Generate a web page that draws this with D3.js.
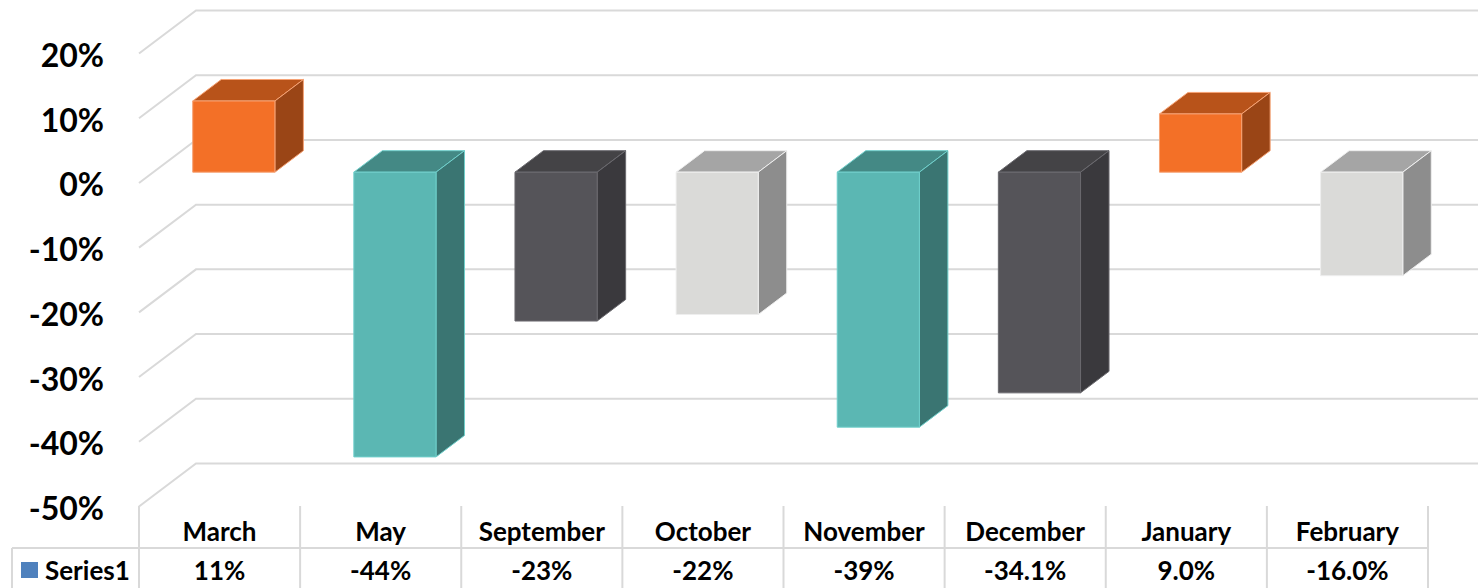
<!DOCTYPE html>
<html><head><meta charset="utf-8">
<script src="https://cdn.jsdelivr.net/npm/d3@7"></script>
<style>html,body{margin:0;padding:0;background:#fff;overflow:hidden}</style>
</head><body><svg id="c" width="1478" height="588"></svg>
<script>
const categories = ["March","May","September","October","November","December","January","February"];
const values = [0.11,-0.44,-0.23,-0.22,-0.394,-0.341,0.09,-0.16];
const valueLabels = ["11%","-44%","-23%","-22%","-39%","-34.1%","9.0%","-16.0%"];
const tickValues = [0.2,0.1,0,-0.1,-0.2,-0.3,-0.4,-0.5];
const tickLabels = ["20%","10%","0%","-10%","-20%","-30%","-40%","-50%"];
const colorIndex = [0,1,2,3,1,2,0,3];
const seriesName = "Series1";
const palette = [
  {front:"#F37027", top:"#B8531A", side:"#9A4516", edge:"#F6A274"},
  {front:"#5BB7B3", top:"#448985", side:"#3A7572", edge:"#6FCFCB"},
  {front:"#555459", top:"#444346", side:"#3A393D", edge:"#6A696E"},
  {front:"#DADAD8", top:"#A5A5A5", side:"#8D8D8D", edge:"#EFEFEF"}
];

const svg = d3.select("#c");
const FONT = "Lato, 'Open Sans', sans-serif";
const DX = 57, DY = 43;
const x = d3.scaleBand().domain(categories).range([139, 1428]).padding(0);
const y = d3.scaleLinear().domain([-0.5, 0.2]).range([506.5, 53.5]);
const p = (xv, v, z) => [xv + z * DX, y(v) - z * DY];
const grid = "#D9D9D9";

// gridlines (side wall + back wall)
const g = svg.append("g");
tickValues.forEach(t => {
  const a = p(139, t, 0), b = p(139, t, 1);
  g.append("path")
    .attr("d", `M${a[0]},${a[1]}L${b[0]},${b[1]}L1500,${b[1]}`)
    .attr("fill", "none").attr("stroke", grid).attr("stroke-width", 2);
});

// axis labels
svg.append("g").selectAll("text").data(tickValues).join("text")
  .attr("x", 104).attr("y", d => y(d) + 1)
  .attr("text-anchor", "end").attr("dominant-baseline", "central")
  .attr("font-family", FONT).attr("font-weight", 700).attr("font-size", 32)
  .attr("fill", "#000")
  .text((d, i) => tickLabels[i]);

// bars
const z0 = 0.25, z1 = 0.75;
const bars = svg.append("g");
categories.forEach((c, i) => {
  const v = values[i];
  const col = palette[colorIndex[i]];
  const xc = x(c) + x.bandwidth() / 2;
  const half = x.bandwidth() * 0.255;
  const top = Math.max(v, 0), bot = Math.min(v, 0);
  const poly = pts => "M" + pts.map(q => q.join(",")).join("L") + "Z";
  const bg = bars.append("g");
  bg.append("path").attr("d", poly([p(xc - half, top, z0), p(xc + half, top, z0), p(xc + half, top, z1), p(xc - half, top, z1)]))
    .attr("fill", col.top).attr("stroke", col.edge).attr("stroke-width", 1).attr("stroke-linejoin", "round");
  bg.append("path").attr("d", poly([p(xc + half, top, z0), p(xc + half, top, z1), p(xc + half, bot, z1), p(xc + half, bot, z0)]))
    .attr("fill", col.side).attr("stroke", col.edge).attr("stroke-width", 1).attr("stroke-linejoin", "round");
  bg.append("path").attr("d", poly([p(xc - half, top, z0), p(xc + half, top, z0), p(xc + half, bot, z0), p(xc - half, bot, z0)]))
    .attr("fill", col.front).attr("stroke", col.edge).attr("stroke-width", 1).attr("stroke-linejoin", "round");
});

// data table
const tbl = svg.append("g");
const colEdges = categories.map(c => x(c)).concat([x(categories[categories.length - 1]) + x.bandwidth()]);
colEdges.forEach(ex => {
  tbl.append("line").attr("x1", ex).attr("x2", ex).attr("y1", 506).attr("y2", 590)
    .attr("stroke", grid).attr("stroke-width", 2);
});
tbl.append("line").attr("x1", 12).attr("x2", 1428).attr("y1", 548).attr("y2", 548).attr("stroke", grid).attr("stroke-width", 2);
tbl.append("line").attr("x1", 12).attr("x2", 12).attr("y1", 548).attr("y2", 590).attr("stroke", grid).attr("stroke-width", 2);

tbl.selectAll("text.cat").data(categories).join("text").attr("class", "cat")
  .attr("x", d => x(d) + x.bandwidth() / 2).attr("y", 541)
  .attr("text-anchor", "middle").attr("font-family", FONT).attr("font-weight", 700).attr("font-size", 26)
  .text(d => d);
tbl.selectAll("text.val").data(valueLabels).join("text").attr("class", "val")
  .attr("x", (d, i) => x(categories[i]) + x.bandwidth() / 2).attr("y", 580)
  .attr("text-anchor", "middle").attr("font-family", FONT).attr("font-weight", 700).attr("font-size", 26)
  .text(d => d);
tbl.append("rect").attr("x", 21).attr("y", 562).attr("width", 17).attr("height", 16).attr("fill", "#4F81BD");
tbl.append("text").attr("x", 45).attr("y", 580).attr("font-family", FONT).attr("font-weight", 700).attr("font-size", 26)
  .text(seriesName);
</script></body></html>
